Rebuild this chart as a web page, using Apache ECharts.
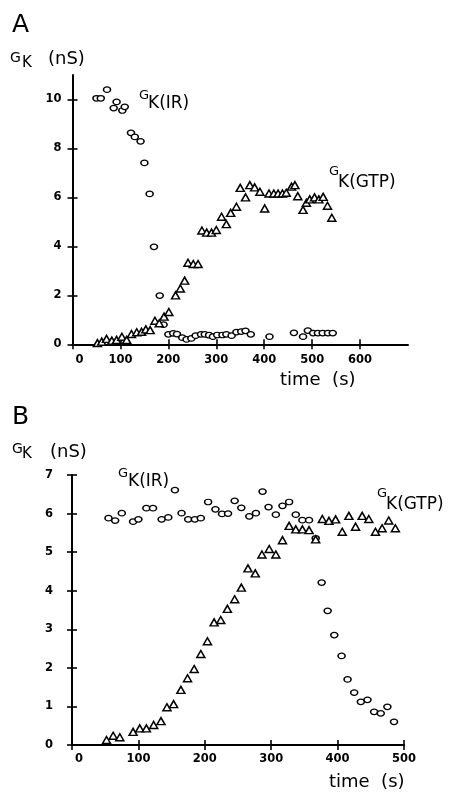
<!DOCTYPE html>
<html>
<head>
<meta charset="utf-8">
<script src="https://cdn.jsdelivr.net/npm/echarts@6/dist/echarts.min.js"></script>
<style>
html,body{margin:0;padding:0;background:#fff;}
#chart{width:457px;height:793px;}
</style>
</head>
<body>
<div id="chart"></div>
<script>
// ---------- Panel A data: [time (s), G_K (nS)] ----------
var irA = [[50,10.05],[59,10.05],[72,10.4],[86,9.65],[92,9.9],[104,9.55],[109,9.7],[122,8.64],[130,8.47],[142,8.29],[150,7.41],[161,6.14],[170,3.98],[182,1.99],[190,0.8],[200,0.41],[210,0.45],[218,0.42],[229,0.27],[238,0.2],[248,0.24],[257,0.35],[268,0.41],[276,0.41],[285,0.37],[293,0.31],[302,0.38],[313,0.38],[321,0.41],[332,0.35],[342,0.5],[352,0.52],[361,0.55],[372,0.41],[411,0.31],[462,0.47],[481,0.31],[491,0.56],[502,0.46],[512,0.46],[522,0.46],[533,0.46],[543,0.46]];
var gtpA = [[52,0.05],[61,0.11],[71,0.22],[82,0.15],[92,0.18],[103,0.31],[113,0.18],[123,0.42],[134,0.49],[144,0.51],[153,0.61],[162,0.58],[172,0.96],[181,0.86],[191,1.13],[201,1.32],[215,2.0],[225,2.28],[234,2.6],[241,3.33],[252,3.28],[262,3.28],[270,4.65],[280,4.56],[290,4.56],[300,4.67],[311,5.21],[321,4.91],[330,5.37],[342,5.62],[350,6.39],[361,6.0],[370,6.5],[380,6.41],[391,6.23],[401,5.55],[410,6.16],[420,6.16],[429,6.16],[438,6.16],[446,6.19],[457,6.44],[464,6.5],[470,6.05],[481,5.49],[488,5.78],[495,5.92],[505,6.0],[514,5.92],[523,6.02],[532,5.66],[541,5.17]];
var xTicksA = [0,100,200,300,400,500,600];
var yTicksA = [0,2,4,6,8,10];

// ---------- Panel B data ----------
var irB = [[55,5.88],[65,5.82],[75,6.01],[92,5.79],[100,5.85],[112,6.14],[122,6.14],[135,5.85],[145,5.9],[155,6.61],[165,6.01],[175,5.85],[185,5.85],[194,5.88],[205,6.3],[216,6.11],[226,5.99],[235,6.0],[245,6.33],[255,6.15],[267,5.93],[277,6.01],[287,6.57],[296,6.17],[307,5.97],[317,6.2],[327,6.3],[337,5.97],[347,5.83],[357,5.83],[367,5.36],[376,4.21],[385,3.48],[395,2.85],[406,2.31],[415,1.7],[425,1.36],[435,1.12],[445,1.17],[455,0.86],[465,0.82],[475,0.99],[485,0.6]];
var gtpB = [[52,0.13],[62,0.24],[72,0.2],[92,0.34],[102,0.43],[112,0.43],[123,0.52],[134,0.62],[143,0.98],[153,1.06],[164,1.43],[174,1.73],[184,1.97],[194,2.36],[204,2.69],[214,3.18],[224,3.24],[234,3.53],[245,3.78],[255,4.08],[265,4.58],[276,4.45],[286,4.94],[297,5.08],[307,4.94],[317,5.31],[327,5.68],[337,5.59],[347,5.59],[357,5.57],[367,5.33],[377,5.86],[387,5.81],[397,5.85],[407,5.53],[417,5.94],[427,5.66],[437,5.94],[447,5.86],[457,5.53],[467,5.62],[477,5.82],[487,5.62]];
var xTicksB = [0,100,200,300,400,500];
var yTicksB = [0,1,2,3,4,5,6,7];

var FONT = '"DejaVu Sans", sans-serif';
var labelStyle = {color:'#000', fontFamily:FONT, fontWeight:'bold', fontSize:11.5};

function axisPair(kind, grid, min, max, ticks, margin){
  var main = {
    gridIndex:grid, type:'value', min:min, max:max,
    axisLine:{show:true, onZero:false, lineStyle:{color:'#000', width:2}},
    axisTick:{show:true, inside:false, length:5, customValues:ticks, lineStyle:{color:'#000', width:1.6}},
    axisLabel:Object.assign({show:true, customValues:ticks, margin:margin}, labelStyle),
    splitLine:{show:false}
  };
  if (kind === 'x') {
    main.axisLabel.formatter = function(v){ return v === 0 ? '{z|0}' : String(v); };
    main.axisLabel.rich = {z:{padding:[0,0,0,14], fontFamily:FONT, fontWeight:'bold', fontSize:11.5, color:'#000'}};
  }
  var inner = {
    gridIndex:grid, type:'value', min:min, max:max,
    axisLine:{show:false},
    axisTick:{show:true, inside:true, length:5, customValues:ticks, lineStyle:{color:'#000', width:1.6}},
    axisLabel:{show:false},
    splitLine:{show:false}
  };
  if (kind === 'x') { main.position = 'bottom'; inner.position = 'bottom'; }
  else { main.position = 'left'; inner.position = 'left'; }
  return [main, inner];
}

var xa = axisPair('x',0,0,700,xTicksA,10).concat(axisPair('x',1,0,500,xTicksB,8));
var ya = axisPair('y',0,0,11,yTicksA,11).concat(axisPair('y',1,0,7,yTicksB,19));

var circleStyle = {color:'#fff', borderColor:'#000', borderWidth:1.4, opacity:1};
var triStyle = {color:'#fff', borderColor:'#000', borderWidth:1.5, opacity:1};

function txt(s, x, y, size){
  return {type:'text', left:x, top:y, silent:true,
    style:{text:s, fill:'#000', font:'normal ' + size + 'px ' + FONT}};
}

var option = {
  animation:false,
  backgroundColor:'#fff',
  grid:[
    {left:72.5, right:49, top:75, height:269.3},
    {left:72, right:53, top:475, height:270}
  ],
  xAxis:xa,
  yAxis:ya,
  series:[
    {type:'scatter', xAxisIndex:0, yAxisIndex:0, data:irA, symbol:'circle', symbolSize:[7,5.5], itemStyle:circleStyle},
    {type:'scatter', xAxisIndex:0, yAxisIndex:0, data:gtpA, symbol:'triangle', symbolSize:[8,7], itemStyle:triStyle},
    {type:'scatter', xAxisIndex:2, yAxisIndex:2, data:irB, symbol:'circle', symbolSize:[7,5.5], itemStyle:circleStyle},
    {type:'scatter', xAxisIndex:2, yAxisIndex:2, data:gtpB, symbol:'triangle', symbolSize:[8,7], itemStyle:triStyle}
  ],
  graphic:[
    txt('A', 12, 13, 25),
    txt('G', 10, 51, 14), txt('K', 22, 56, 15), txt('(nS)', 48, 50, 18),
    txt('G', 139, 89.5, 13), txt('K(IR)', 148, 95, 17),
    txt('G', 329, 165.5, 13), txt('K(GTP)', 338, 174, 17),
    txt('time  (s)', 280, 371.5, 18),
    txt('B', 12, 405, 25),
    txt('G', 12, 442, 14), txt('K', 22, 447, 15), txt('(nS)', 50, 443, 18),
    txt('G', 118, 467.5, 13), txt('K(IR)', 128, 473, 17),
    txt('G', 377, 487.5, 13), txt('K(GTP)', 386, 496, 17),
    txt('time  (s)', 329, 773.5, 18)
  ]
};

var chart = echarts.init(document.getElementById('chart'), null, {renderer:'canvas'});
chart.setOption(option);
</script>
</body>
</html>
